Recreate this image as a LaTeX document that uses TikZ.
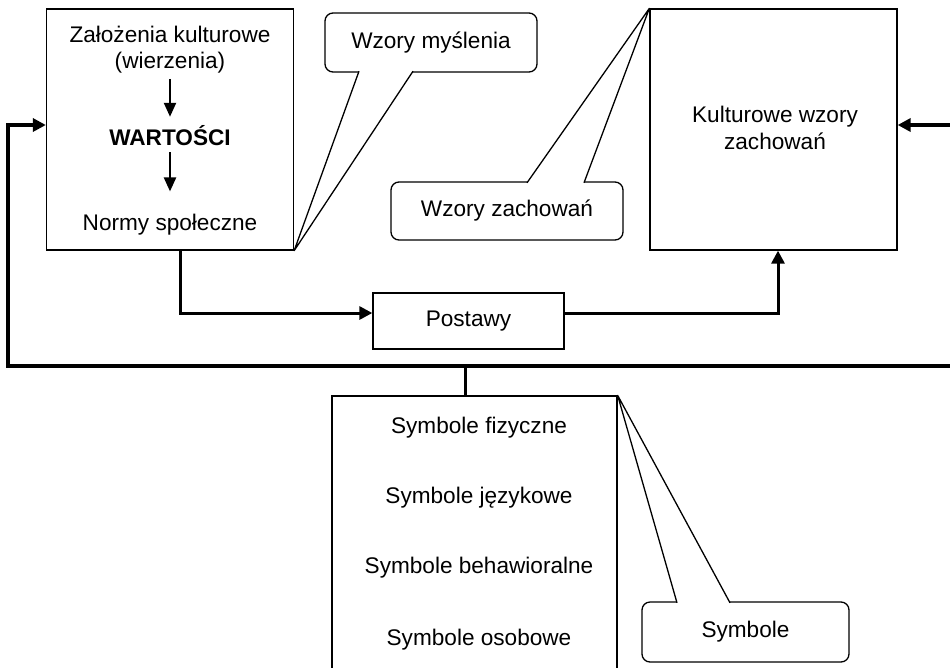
\documentclass[tikz,border=0pt]{standalone}
\usepackage{fontspec}
\setmainfont{Liberation Sans}
\usetikzlibrary{arrows.meta,calc}

\begin{document}
\begin{tikzpicture}[x=1pt,y=-1pt,
    every node/.style={font=\fontsize{22.6}{25.5}\selectfont},
    box/.style={draw,line width=1.3pt,inner sep=0pt},
    callout/.style={draw,line width=1.3pt,rounded corners=8pt,inner sep=0pt,outer sep=0pt,fill=white},
    txt/.style={inner sep=0pt},
    tail/.style={line width=1.3pt,fill=white,line join=round},
    inarr/.style={line width=2.3pt,-{Triangle[length=14pt,width=12pt]}},
    arr/.style={line width=3pt,-{Triangle[length=13pt,width=13pt]}},
    feed/.style={line width=3.3pt,{Triangle[length=13pt,width=13pt]}-{Triangle[length=13pt,width=13pt]}}]
    \useasboundingbox (0,0) rectangle (950,667);
    \clip (0,0) rectangle (950,667);
    % boxes
    \node[box,minimum width=247pt,minimum height=241pt] (lbox) at (170,129.5) {};
    \node[box,minimum width=247pt,minimum height=241pt] (rbox) at (773.5,129.5) {};
    \node[box,minimum width=191pt,minimum height=56pt] (post) at (468.5,321) {Postawy};
    \node[box,minimum width=285pt,minimum height=300pt] (sbox) at (474.5,546) {};
    % texts in the left box
    \node[txt,align=center] (zal) at (170,49.5) {Założenia kulturowe\\(wierzenia)};
    \node[txt,anchor=base] (wart) at (170,145) {\bfseries WARTOŚCI};
    \node[txt,anchor=base] (norm) at (170,230) {Normy społeczne};
    \draw[inarr,shorten <=6pt,shorten >=8pt] (zal) -- (wart);
    \draw[inarr,shorten <=7pt,shorten >=22pt] (wart) -- (norm);
    % text in the right box
    \node[txt,align=center,font=\fontsize{22.6}{26.5}\selectfont] (kult) at (775,128) {Kulturowe wzory\\zachowań};
    % symbols
    \node[txt,anchor=base] (sfiz) at (479,433) {Symbole fizyczne};
    \node[txt,anchor=base] (sjez) at (479,503) {Symbole językowe};
    \node[txt,anchor=base] (sbeh) at (479,573) {Symbole behawioralne};
    \node[txt,anchor=base] (soso) at (479,645) {Symbole osobowe};
    % callouts
    \node[callout,minimum width=212pt,minimum height=59pt] (cmys) at (431,42.5) {Wzory myślenia};
    \node[callout,minimum width=232pt,minimum height=58pt] (czach) at (507,211) {Wzory zachowań};
    \node[callout,minimum width=207pt,minimum height=60pt] (csym) at (745.5,632) {Symbole};
    \draw[tail] ($(cmys.south west)+(34,-0.8)$) -- (lbox.south east) -- ($(cmys.south west)+(88,-0.8)$);
    \draw[tail] ($(czach.north west)+(136,0.8)$) -- (rbox.north west) -- ($(czach.north west)+(193,0.8)$);
    \draw[tail] ($(csym.north west)+(35,0.8)$) -- (sbox.north east) -- ($(csym.north west)+(88,0.8)$);
    % connectors
    \draw[arr] ($(lbox.south)+(10,0)$) |- ($(post.west)+(0,-8)$);
    \draw[arr] ($(post.east)+(0,-8)$) -| ($(rbox.south)+(4.5,0)$);
    \coordinate (busL) at (8,366);
    \coordinate (busR) at (953,366);
    \coordinate (busS) at (465,366);
    \draw[feed] ($(rbox.east)+(0,-4.5)$) -| (busR) -- (busL) |- ($(lbox.west)+(0,-4.5)$);
    \draw[line width=3pt] (busS) -- (busS |- sbox.north);
\end{tikzpicture}
\end{document}
